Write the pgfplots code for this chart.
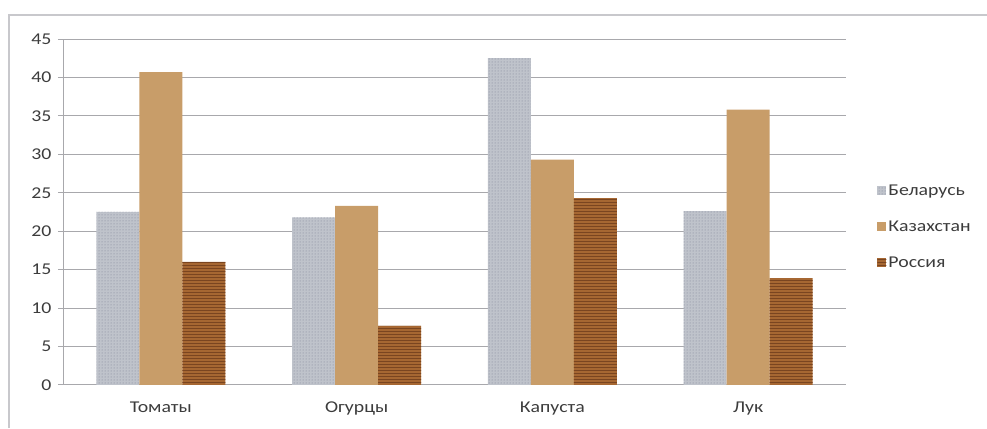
\documentclass[border=0pt]{standalone}
\usepackage{fontspec}
\setmainfont[FakeStretch=1.2]{Carlito}
\usepackage{pgfplots}
\pgfplotsset{compat=1.18}
\usetikzlibrary{patterns}
\definecolor{txt}{HTML}{3C3C3C}
\definecolor{gridc}{HTML}{A8A8AC}
\definecolor{frame}{HTML}{C8C8CC}
\definecolor{bel}{HTML}{BFC3CB}
\definecolor{beldot}{HTML}{7E8196}
\definecolor{kaz}{HTML}{C89D69}
\definecolor{rus}{HTML}{A66732}
\definecolor{rusline}{HTML}{7A4520}
\begin{document}
\begin{tikzpicture}[x=1pt,y=1pt]
\useasboundingbox (0,0) rectangle (987,428);
\draw[frame, line width=1.3pt] (9,0) -- (9,413) -- (987,413);
\begin{axis}[
  at={(63pt,43pt)}, anchor=south west, scale only axis,
  width=783pt, height=346pt,
  ybar=0pt, bar width=43pt,
  xmin=-0.5, xmax=3.5, ymin=0, ymax=45,
  ytick={0,5,...,45},
  xtick={0,1,2,3},
  xticklabels={Томаты,Огурцы,Капуста,Лук},
  major x tick style={draw=none},
  extra x ticks={-0.5,0.5,1.5,2.5,3.5},
  extra x tick labels={},
  extra x tick style={xmajorgrids=false, major tick length=5pt, tick style={draw=gridc, line width=1pt}},
  axis x line*=bottom, axis y line*=left,
  axis line style={draw=gridc, line width=1pt},
  ytick style={draw=gridc, line width=1pt},
  major tick length=5pt,
  tick align=outside,
  ymajorgrids, grid style={draw=gridc, line width=1pt},
  ticklabel style={font=\fontsize{16.5}{18}\selectfont, text=txt},
  /pgf/number format/assume math mode=true,
  yticklabel style={xshift=-3pt},
  xticklabel style={yshift=-8pt},
  legend style={at={(1.036,0.457)}, anchor=west, draw=none, fill=none,
    font=\fontsize{16.5}{18}\selectfont, text=txt, row sep=20pt,
    /tikz/every even column/.append style={column sep=3pt}},
  legend cell align=left,
  legend image code/.code={\fill[#1] (0pt,-4.5pt) rectangle (9pt,4.5pt);},
]
\addplot[fill=bel, draw=none, postaction={pattern=dots, pattern color=beldot}]
  coordinates {(0,22.5) (1,21.8) (2,42.5) (3,22.6)};
\addplot[fill=kaz, draw=none]
  coordinates {(0,40.7) (1,23.3) (2,29.3) (3,35.8)};
\addplot[fill=rus, draw=none, postaction={pattern=horizontal lines, pattern color=rusline}]
  coordinates {(0,16.0) (1,7.7) (2,24.3) (3,13.9)};
\legend{Беларусь,Казахстан,Россия}
\end{axis}
\end{tikzpicture}
\end{document}
